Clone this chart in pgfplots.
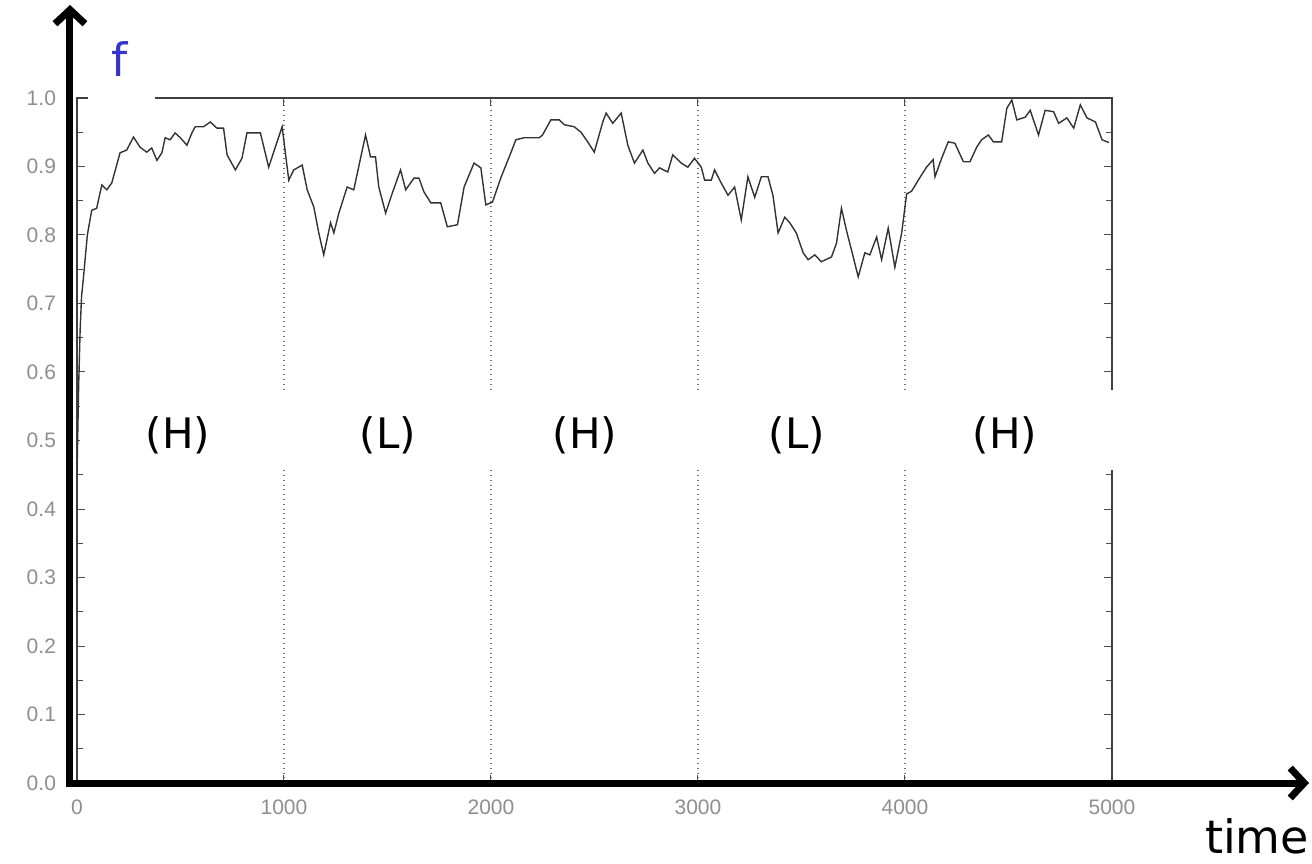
\documentclass[border=0pt]{standalone}
\usepackage{pgfplots}
\pgfplotsset{compat=1.18}
\usepackage{fontspec}
\setmainfont{Liberation Sans}
\newfontfamily\comic{DejaVu Sans}
\usetikzlibrary{arrows.meta}
\definecolor{tickgray}{HTML}{8E8E8E}
\definecolor{fblue}{HTML}{3535CC}
\begin{document}
\begin{tikzpicture}
\path[use as bounding box] (-38.5pt,-40pt) rectangle (617.5pt,391.5pt);
\begin{axis}[
  at={(0,0)}, anchor=south west,
  scale only axis, width=517.5pt, height=342.5pt,
  xmin=0, xmax=5000, ymin=0, ymax=1,
  xtick={0,1000,2000,3000,4000,5000},
  ytick={0,0.1,...,1.0},
  minor ytick={0.05,0.15,...,0.95},
  tick align=inside,
  major tick length=4pt, minor tick length=3pt,
  tick style={color=black!70, line width=0.5pt},
  axis line style={color=black!75, line width=0.7pt},
  xmajorgrids, grid style={dotted, color=black!55, line width=0.6pt},
  ticklabel style={font=\fontsize{10.5}{12}\selectfont, color=tickgray},
  /pgf/number format/assume math mode=true,
  yticklabel style={/pgf/number format/.cd, fixed, fixed zerofill, precision=1},
  xticklabel style={/pgf/number format/.cd, 1000 sep={}},
  xtick pos=both, ytick pos=both,
  xticklabel pos=bottom, yticklabel pos=left,
  xticklabel shift=5pt, yticklabel shift=7pt,
]
\addplot[color=black!80, line width=0.7pt] coordinates {
(0,0.45) (8,0.58) (15,0.66) (22,0.71) (30,0.734) (50,0.80) (71,0.836) (95,0.839) (120,0.873) (144,0.866) (168,0.876)
(208,0.920) (240,0.924) (273,0.943) (305,0.928) (337,0.921) (361,0.927) (386,0.909) (410,0.920) (426,0.942)
(450,0.939) (474,0.949) (499,0.942) (531,0.931) (555,0.949) (571,0.958) (611,0.958) (644,0.965) (676,0.956)
(708,0.956) (725,0.917) (765,0.895) (797,0.912) (821,0.949) (886,0.949) (926,0.899) (991,0.958) (1023,0.880)
(1047,0.895) (1088,0.902) (1112,0.866) (1144,0.841) (1168,0.803) (1192,0.771) (1225,0.818) (1241,0.803)
(1265,0.832) (1305,0.870) (1337,0.866) (1394,0.946) (1418,0.914) (1442,0.914) (1458,0.870) (1491,0.832)
(1523,0.861) (1563,0.895) (1588,0.866) (1628,0.883) (1652,0.883) (1676,0.863) (1709,0.847) (1757,0.847)
(1789,0.812) (1838,0.815) (1870,0.870) (1918,0.905) (1951,0.898) (1975,0.844) (2007,0.848) (2047,0.883)
(2096,0.920) (2120,0.939) (2160,0.942) (2233,0.942) (2249,0.946) (2289,0.968) (2330,0.968) (2354,0.961)
(2402,0.958) (2435,0.950) (2467,0.936) (2499,0.921) (2540,0.965) (2556,0.978) (2588,0.963) (2629,0.978)
(2661,0.931) (2693,0.905) (2734,0.924) (2758,0.905) (2790,0.890) (2814,0.898) (2854,0.892) (2878,0.917)
(2919,0.905) (2951,0.899) (2983,0.912) (3016,0.899) (3032,0.880) (3064,0.880) (3080,0.895) (3112,0.876)
(3145,0.858) (3177,0.870) (3209,0.822) (3241,0.885) (3274,0.855) (3306,0.885) (3338,0.885) (3362,0.858)
(3387,0.803) (3419,0.826) (3443,0.818) (3475,0.803) (3508,0.774) (3532,0.764) (3564,0.771) (3596,0.761)
(3645,0.768) (3669,0.788) (3693,0.839) (3717,0.807) (3750,0.768) (3774,0.739) (3806,0.774) (3830,0.771)
(3863,0.797) (3887,0.764) (3919,0.810) (3951,0.753) (3984,0.803) (4008,0.860) (4032,0.864) (4064,0.880)
(4104,0.899) (4136,0.910) (4145,0.885) (4177,0.912) (4209,0.936) (4241,0.934) (4282,0.907) (4314,0.907)
(4346,0.928) (4370,0.939) (4403,0.946) (4427,0.936) (4467,0.936) (4492,0.985) (4516,0.997) (4540,0.968)
(4581,0.972) (4605,0.982) (4645,0.946) (4677,0.982) (4718,0.980) (4742,0.963) (4782,0.971) (4815,0.956)
(4847,0.990) (4879,0.971) (4920,0.965) (4952,0.939) (4985,0.935)
};
\end{axis}
% white band and labels
\fill[white] (1.5pt,156.5pt) rectangle (525pt,196.5pt);
\fill[white] (5.5pt,342pt) rectangle (39pt,381.5pt);
\node[font=\comic\fontsize{21}{24}\selectfont] at (50.5pt,174pt) {(H)};
\node[font=\comic\fontsize{21}{24}\selectfont] at (155.5pt,174pt) {(L)};
\node[font=\comic\fontsize{21}{24}\selectfont] at (254pt,174pt) {(H)};
\node[font=\comic\fontsize{21}{24}\selectfont] at (360pt,174pt) {(L)};
\node[font=\comic\fontsize{21}{24}\selectfont] at (464pt,174pt) {(H)};
\node[font=\comic\fontsize{23}{26}\selectfont, text=fblue] at (21.5pt,362pt) {f};
\node[font=\comic\fontsize{23}{26}\selectfont, inner sep=0pt, anchor=base] at (590pt,-35pt) {time};
% thick axis arrows
\draw[line width=3.5pt, -{Straight Barb[length=7pt,width=15pt]}] (-3.5pt,-1.75pt) -- (-3.5pt,389pt);
\draw[line width=3.5pt, -{Straight Barb[length=7pt,width=15pt]}] (-5.25pt,0pt) -- (616pt,0pt);
\end{tikzpicture}
\end{document}
